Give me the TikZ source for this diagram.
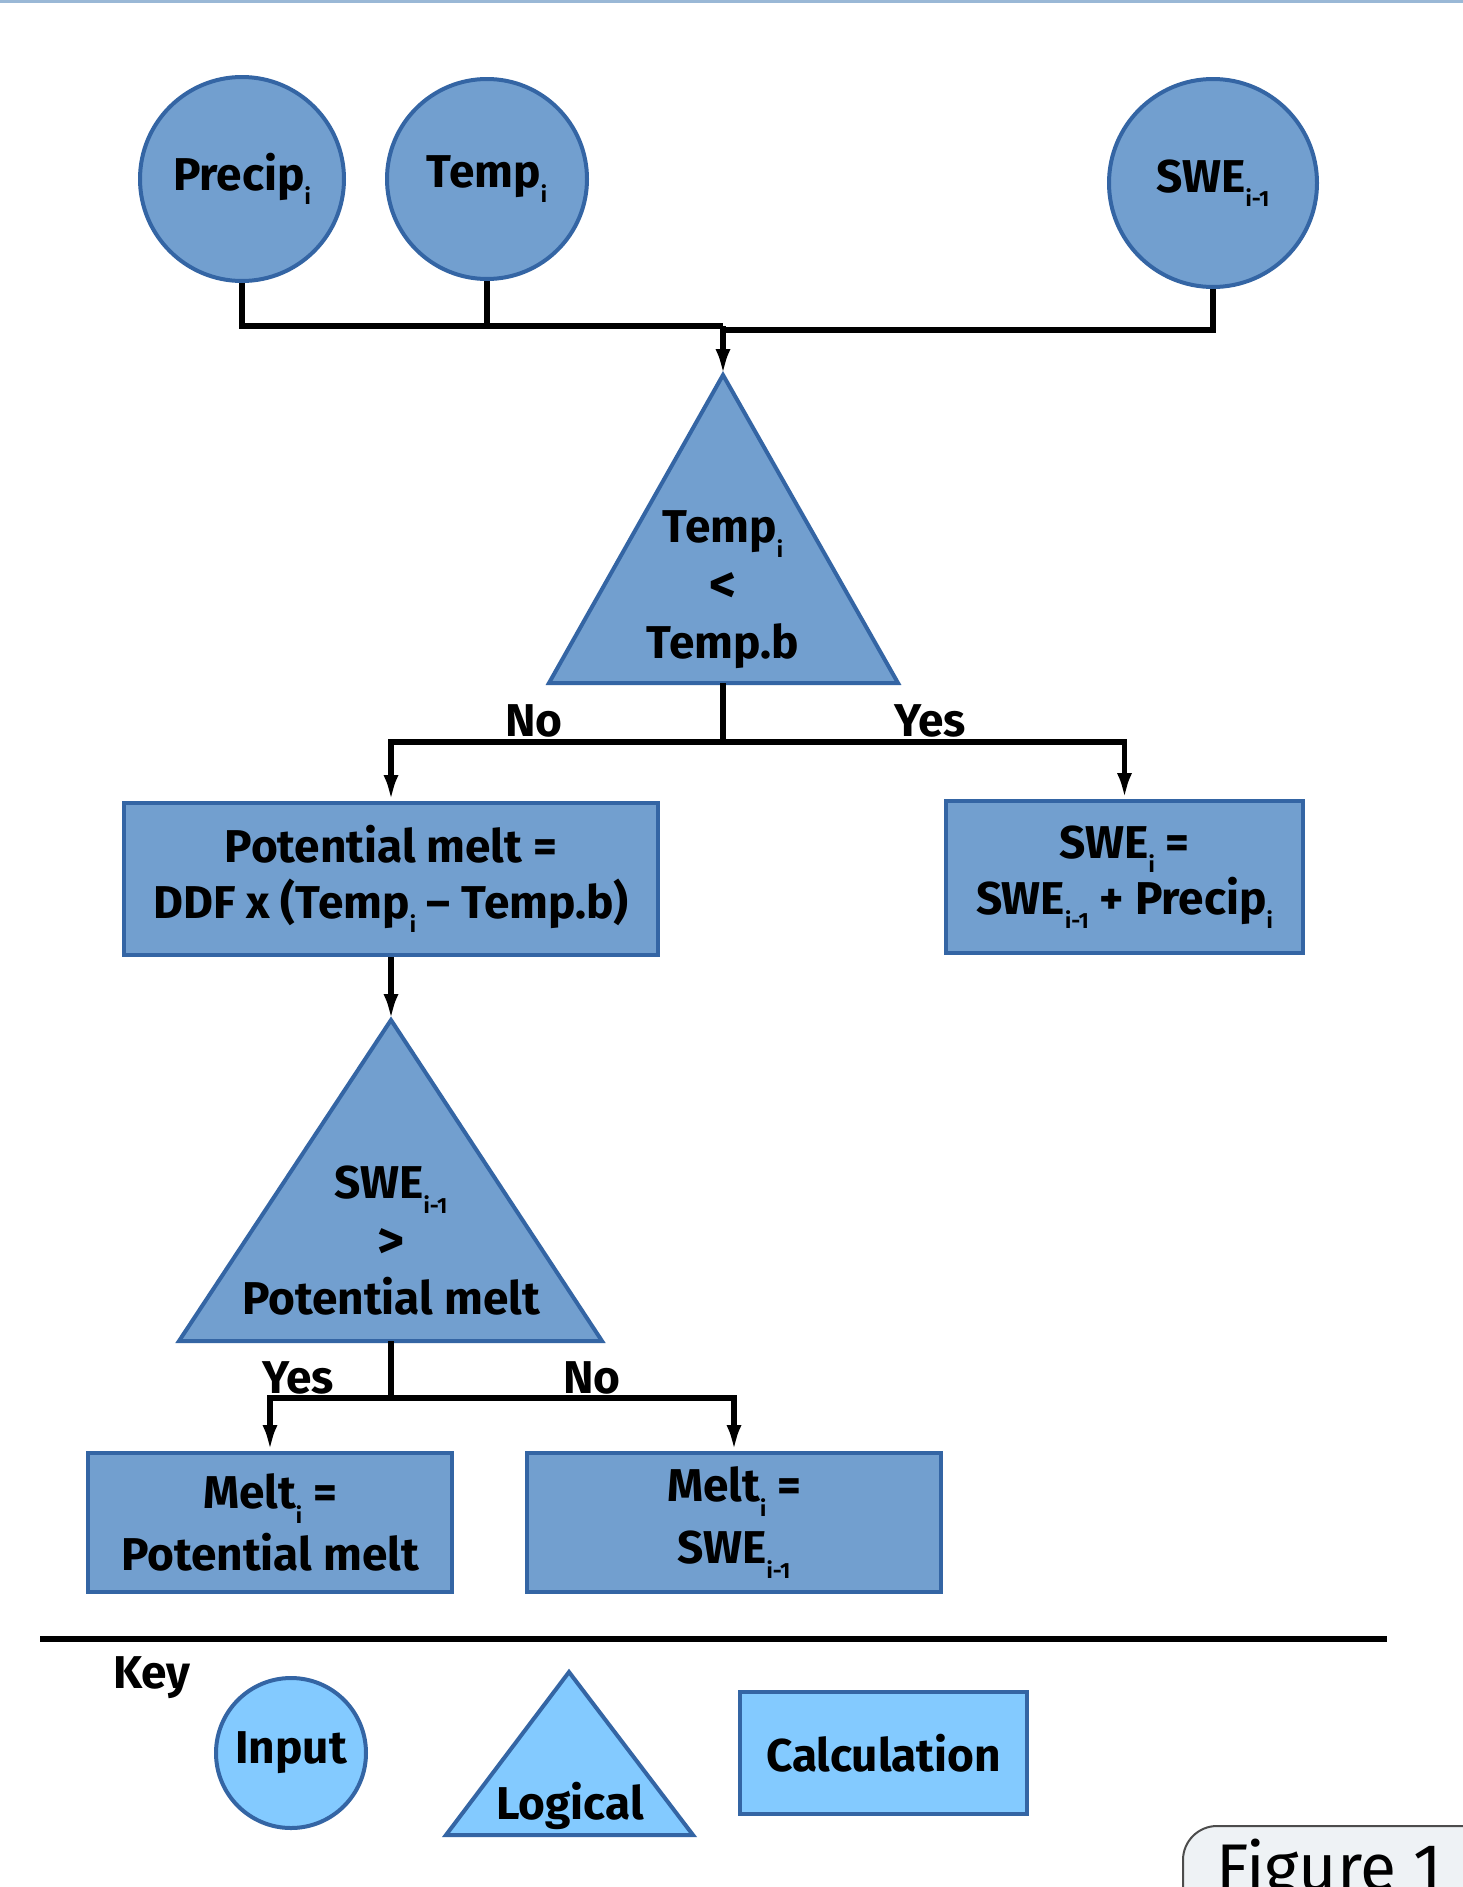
\documentclass[tikz,border=0pt]{standalone}
\usepackage{fontspec}
\setmainfont{Fira Sans}
\usetikzlibrary{arrows.meta}
\definecolor{fillA}{HTML}{729FCF}
\definecolor{lineA}{HTML}{3465A4}
\definecolor{fillK}{HTML}{83CAFF}
\definecolor{topline}{HTML}{9AB8D6}
\definecolor{figfill}{HTML}{EEF2F5}
\newcommand{\lo}[1]{\raisebox{-0.6ex}{\fontsize{22}{22}\selectfont #1}}
\begin{document}
\begin{tikzpicture}[x=1pt,y=-1pt,
  every node/.style={font=\bfseries\fontsize{46}{56}\selectfont, inner sep=0pt, align=center},
  inputnode/.style={circle, draw=lineA, fill=fillA, line width=4pt},
  calcbox/.style={rectangle, draw=lineA, fill=fillA, line width=4pt},
  logictri/.style={draw=lineA, fill=fillA, line width=4pt, line join=miter},
  conn/.style={line width=5.5pt},
  arr/.style={line width=5.5pt, -{Latex[length=26pt,width=15pt]}},
  lbl/.style={}
]
\clip (0,0) rectangle (1463,1887);
\useasboundingbox (0,0) rectangle (1463,1887);
\fill[white] (0,0) rectangle (1463,1887);
\draw[topline, line width=3pt] (0,1.5) -- (1463,1.5);

% inputs
\node[inputnode, minimum size=204pt] (precip) at (242,179) {Precip\lo{i}};
\node[inputnode, minimum size=200pt] (temp) at (487,179) {Temp\lo{i}};
\node[inputnode, minimum size=208pt] (swe) at (1213,183) {SWE\lo{i-1}};

% triangle 1
\draw[logictri] (723,375) -- (898,683) -- (549,683) -- cycle;
\coordinate (t1a) at (723,375);
\coordinate (t1b) at (723,683);
\node (t1txt) at (723,590) {Temp\lo{i}\\[4pt]{\fontsize{52}{52}\selectfont<}\\Temp.b};

% joins top
\coordinate (j0) at (723,326);
\draw[conn] (precip.south) -- (precip.south |- j0) -- (j0);
\draw[conn] (temp.south) -- (temp.south |- j0);
\draw[conn] (swe.south) -- (1213,330) -- (723,330);
\draw[arr] (j0) -- (t1a);

% boxes level 2
\node[calcbox, minimum width=534pt, minimum height=152pt] (pm) at (391,879) {Potential melt =\\DDF x (Temp\lo{i} – Temp.b)};
\node[calcbox, minimum width=357pt, minimum height=152pt] (sweb) at (1124.5,877) {SWE\lo{i} =\\SWE\lo{i-1} + Precip\lo{i}};

\coordinate (j1) at (723,742);
\draw[conn] (t1b) -- (j1);
\draw[arr] (j1) -| (pm.north);
\draw[arr] (j1) -| (sweb.north);
\node[lbl] (no1) at (534,721) {No};
\node[lbl] (yes1) at (930,721) {Yes};

% triangle 2
\draw[logictri] (391,1020) -- (602,1341) -- (179,1341) -- cycle;
\coordinate (t2a) at (391,1020);
\coordinate (t2b) at (391,1341);
\node (t2txt) at (391,1241) {SWE\lo{i-1}\\[4pt]{\fontsize{52}{52}\selectfont>}\\Potential melt};
\draw[arr] (pm.south) -- (t2a);

% bottom boxes
\node[calcbox, minimum width=364pt, minimum height=139pt] (m1) at (270,1522.5) {Melt\lo{i} =\\[6pt]Potential melt};
\node[calcbox, minimum width=414pt, minimum height=139pt] (m2) at (734,1522.5) {Melt\lo{i} =\\[6pt]SWE\lo{i-1}};

\coordinate (j2) at (391,1398);
\draw[conn] (t2b) -- (j2);
\draw[arr] (j2) -| (m1.north);
\draw[arr] (j2) -| (m2.north);
\node[lbl] (yes2) at (298,1378) {Yes};
\node[lbl] (no2) at (592,1378) {No};

% key
\draw[line width=6pt] (40,1639) -- (1387,1639);
\node (key) at (152,1678) {Key};
\node[inputnode, fill=fillK, minimum size=150pt] (kin) at (291,1753) {Input};
\draw[logictri, fill=fillK] (569,1672) -- (693,1835) -- (446,1835) -- cycle;
\node (klog) at (570,1806) {Logical};
\node[calcbox, fill=fillK, minimum width=287pt, minimum height=122pt] (kcalc) at (883.5,1753) {Calculation};

% figure tag
\draw[draw=black!70, fill=figfill, line width=2pt, rounded corners=34pt] (1183,1980) -- (1183,1826) -- (1540,1826) -- (1540,1980) -- cycle;
\node[font=\fontsize{66}{66}\selectfont, anchor=base west] (fig) at (1216,1890) {Figure 1};
\end{tikzpicture}
\end{document}
